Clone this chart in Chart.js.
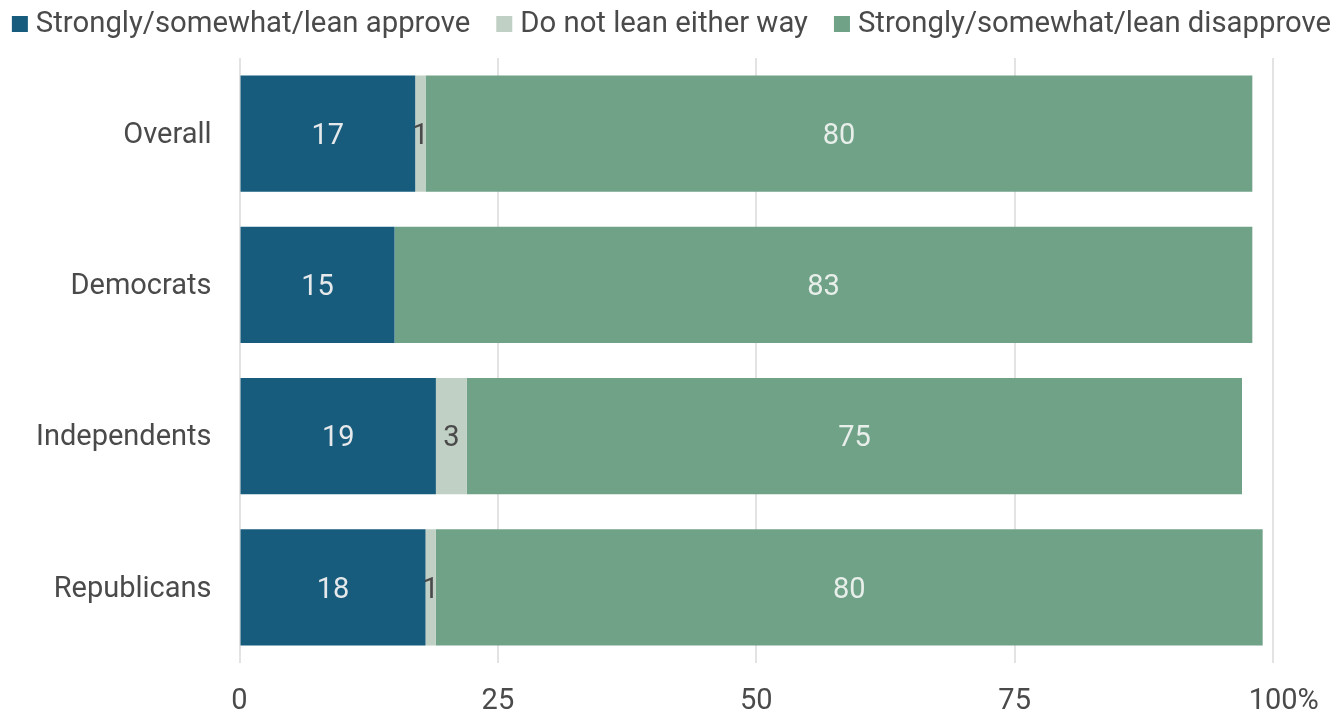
<!DOCTYPE html>
<html>
<head>
<meta charset="utf-8">
<script src="https://cdn.jsdelivr.net/npm/chart.js@4"></script>
<style>
  body { margin: 0; background: #fff; }
  #wrap { width: 1343px; height: 713px; }
</style>
</head>
<body>
<div id="wrap"><canvas id="canvas"></canvas></div>
<script>
var groups = ['Overall', 'Democrats', 'Independents', 'Republicans'];
var approve = [17, 15, 19, 18];
var neither = [1, 0, 3, 1];
var disapprove = [80, 83, 75, 80];
var xTicks = [0, 25, 50, 75, 100];

var FONT = '29px Roboto';

// values written in the middle of each bar piece
var barLabels = {
	id: 'barLabels',
	afterDatasetsDraw: function(chart) {
		var ctx = chart.ctx;
		ctx.save();
		ctx.font = FONT;
		ctx.textAlign = 'center';
		ctx.textBaseline = 'middle';
		chart.data.datasets.forEach(function(ds, i) {
			var meta = chart.getDatasetMeta(i);
			meta.data.forEach(function(bar, j) {
				var v = ds.data[j];
				if (!v) return;
				ctx.fillStyle = ds.labelColor;
				ctx.fillText(v, (bar.x + bar.base) / 2, bar.y + 3);
			});
		});
		ctx.restore();
	}
};

// one-line legend with a tight gap between box and text
var topLegend = {
	id: 'topLegend',
	afterDraw: function(chart) {
		var ctx = chart.ctx;
		var sets = chart.data.datasets;
		ctx.save();
		ctx.font = '29.3px Roboto';
		ctx.textBaseline = 'alphabetic';
		ctx.textAlign = 'left';
		var box = 16, gap = 8, space = 26;
		var widths = sets.map(function(ds) { return ctx.measureText(ds.label).width; });
		var total = 0;
		widths.forEach(function(w) { total += box + gap + w; });
		total += space * (sets.length - 1);
		var x = (chart.width - total) / 2;
		sets.forEach(function(ds, i) {
			ctx.fillStyle = ds.backgroundColor;
			ctx.fillRect(x, 16, box, box);
			ctx.fillStyle = '#4A4A4A';
			ctx.fillText(ds.label, x + box + gap, 31.5);
			x += box + gap + widths[i] + space;
		});
		ctx.restore();
	}
};

const ctx = document.getElementById('canvas').getContext('2d');

const myChart = new Chart(ctx, {
  type: 'bar',
  data: {
	labels: groups,
	datasets: [{
	  label: 'Strongly/somewhat/lean approve',
	  data: approve,
	  backgroundColor: '#175C7C',
	  labelColor: '#E6E9EB'
	}, {
	  label: 'Do not lean either way',
	  data: neither,
	  backgroundColor: '#C0D0C4',
	  labelColor: '#4A4A4A'
	}, {
	  label: 'Strongly/somewhat/lean disapprove',
	  data: disapprove,
	  backgroundColor: '#70A288',
	  labelColor: '#E8EFEA'
	}]
  },
  options: {
	indexAxis: 'y',
	responsive: true,
	maintainAspectRatio: false,
	animation: false,
	barPercentage: 0.77,
	categoryPercentage: 1,
	layout: {
	  padding: { left: 8, right: 70, top: 58, bottom: 0 }
	},
	scales: {
	  x: {
		stacked: true,
		min: 0,
		max: 100,
		afterBuildTicks: function(axis) {
			axis.ticks = xTicks.map(function(v) { return { value: v }; });
		},
		afterFit: function(axis) { axis.height = 50; },
		grid: { color: '#E3E3E3', lineWidth: 2, drawTicks: false },
		border: { display: false },
		ticks: {
		  padding: 21,
		  color: '#4A4A4A',
		  font: { family: 'Roboto', size: 29 },
		  maxRotation: 0,
		  callback: function(v) { return v === 100 ? '   100%' : v; }
		}
	  },
	  y: {
		stacked: true,
		grid: { display: false, drawTicks: false },
		border: { display: false },
		ticks: {
		  padding: 28,
		  labelOffset: 2,
		  color: '#4A4A4A',
		  font: { family: 'Roboto', size: 29 }
		}
	  }
	},
	plugins: {
	  tooltip: { enabled: false },
	  legend: { display: false }
	}
  },
  plugins: [barLabels, topLegend]
});
</script>
</body>
</html>
